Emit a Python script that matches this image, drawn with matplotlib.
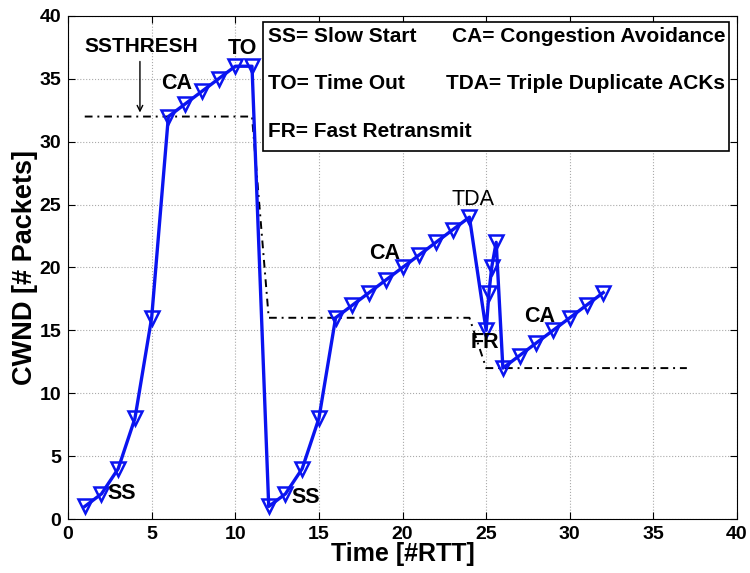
import numpy as np
import matplotlib.pyplot as plt
from matplotlib.patches import Rectangle

# cwnd trace
t = [1, 2, 3, 4, 5, 6, 7, 8, 9, 10, 11, 12, 13, 14, 15, 16, 17, 18, 19, 20,
     21, 22, 23, 24, 25, 25.17, 25.33, 25.6, 26, 27, 28, 29, 30, 31, 32]
cwnd = [1, 2, 4, 8, 16, 32, 33, 34, 35, 36, 36, 1, 2, 4, 8, 16, 17, 18, 19, 20,
        21, 22, 23, 24, 15, 18, 20, 22, 12, 13, 14, 15, 16, 17, 18]

# ssthresh
t_th = [1, 11, 12, 24, 25, 37]
ssthresh = [32, 32, 16, 16, 12, 12]

# phase labels: (text, x, y, bold)
labels = [("CA", 6.5, 34.6, True), ("TO", 10.4, 37.4, True),
          ("CA", 18.9, 21.1, True), ("TDA", 24.2, 25.4, False),
          ("FR", 24.95, 14.0, True), ("CA", 28.2, 16.1, True),
          ("SS", 3.2, 2.0, True), ("SS", 14.2, 1.7, True)]

legend_rows = [("SS= Slow Start", "CA= Congestion Avoidance"),
               ("TO= Time Out", "TDA= Triple Duplicate ACKs"),
               ("FR= Fast Retransmit", "")]

plt.rcParams['font.family'] = ['Liberation Sans', 'DejaVu Sans']

fig = plt.figure(figsize=(7.5, 5.73), dpi=100)
ax = fig.add_axes([0.0907, 0.0942, 0.892, 0.878])

ax.plot(t_th, ssthresh, color='black', linestyle=(0, (4, 2.5, 1, 2.5)), lw=1.4, zorder=2)
ax.plot(t, cwnd, color='#0a14f0', lw=2.4, marker='v', markersize=10.5,
        markerfacecolor='none', markeredgewidth=1.8, zorder=3)

for txt, x, y, b in labels:
    ax.text(x, y, txt, fontsize=15.5, fontweight='bold' if b else 'normal',
            ha='center', va='center', zorder=4)

ax.text(4.4, 37.6, "SSTHRESH", fontsize=15, fontweight='bold', ha='center', va='center')
ax.annotate("", xy=(4.3, 32.1), xytext=(4.3, 36.6),
            arrowprops=dict(arrowstyle='->', color='black', lw=1))

ax.add_patch(Rectangle((11.65, 29.25), 27.85, 10.25, facecolor='white',
                       edgecolor='black', lw=1.2, zorder=5))
for i, (a, b) in enumerate(legend_rows):
    y = 38.4 - i * 3.8
    ax.text(11.95, y, a, fontsize=15, fontweight='bold', va='center', zorder=6)
    if b:
        ax.text(39.3, y, b, fontsize=15, fontweight='bold', va='center', ha='right', zorder=6)

ax.set_xlim(0, 40)
ax.set_ylim(0, 40)
ax.set_xticks(np.arange(0, 41, 5))
ax.set_yticks(np.arange(0, 41, 5))
ax.grid(True, linestyle=':', color='#aaaaaa', lw=0.8)
ax.tick_params(direction='in', top=True, right=True, labelsize=14, length=5, pad=5)
for lab in ax.get_xticklabels() + ax.get_yticklabels():
    lab.set_fontweight('bold')
ax.set_xlabel('Time [#RTT]', fontsize=18, fontweight='bold', labelpad=-1)
ax.set_ylabel('CWND [# Packets]', fontsize=19.5, fontweight='bold', labelpad=1)

fig.savefig('out.png', dpi=100)
